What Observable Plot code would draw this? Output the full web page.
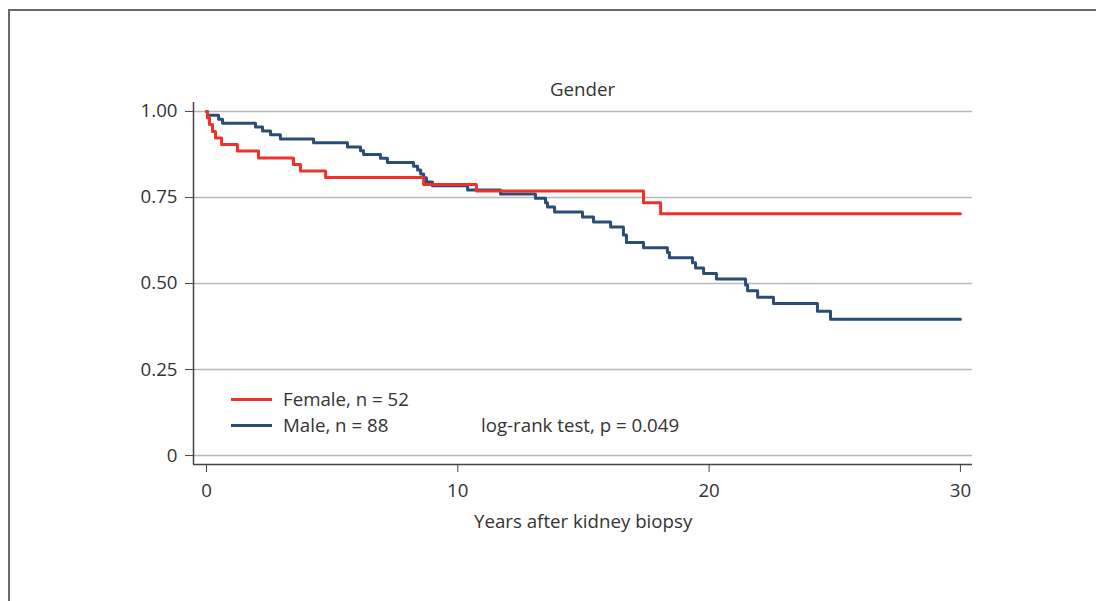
<!DOCTYPE html>
<html>
<head>
<meta charset="utf-8">
<script src="https://cdn.jsdelivr.net/npm/d3@7"></script>
<script src="https://cdn.jsdelivr.net/npm/@observablehq/plot@0.6"></script>
<style>
  html, body { margin: 0; padding: 0; background: #fff; }
  #wrap { position: relative; width: 1096px; height: 601px; overflow: hidden; font-family: "Open Sans", "Noto Sans", sans-serif; color: #333; }
  #border { position: absolute; left: 8px; top: 9px; width: 1200px; height: 700px; border-top: 2px solid #6a6a6a; border-left: 2px solid #6a6a6a; }
  .txt { position: absolute; font-size: 18.7px; white-space: nowrap; line-height: 1; }
  .sw { position: absolute; height: 3px; width: 41px; }
</style>
</head>
<body>
<div id="wrap">
  <div id="border"></div>
  <div id="chart"></div>
  <div class="txt" id="title" style="left:193px; width:779px; text-align:center; top:80px;"></div>
  <div class="sw" id="swF" style="left:231px; top:398px;"></div>
  <div class="txt" id="labF" style="left:283px; top:390px;"></div>
  <div class="sw" id="swM" style="left:231px; top:424px;"></div>
  <div class="txt" id="labM" style="left:283px; top:416px;"></div>
  <div class="txt" id="note" style="left:481px; top:416px;"></div>
  <div class="txt" id="xlab" style="left:474px; top:512px;"></div>
</div>
<script>
// ---- data ----
const titleText = "Gender";
const xLabel = "Years after kidney biopsy";
const noteText = "log-rank test, p = 0.049";
const seriesNames = ["Female, n = 52", "Male, n = 88"];
const seriesColors = ["#ee3229", "#2a4c77"];

const femaleTime = [0, 0.04, 0.12, 0.24, 0.36, 0.6, 1.23, 2.07, 3.46, 3.74, 4.74, 8.64, 10.74, 17.39, 18.07, 30];
const femaleSurv = [1.0, 0.981, 0.962, 0.942, 0.923, 0.904, 0.885, 0.865, 0.846, 0.827, 0.808, 0.788, 0.769, 0.735, 0.703, 0.703];

const maleTime = [0, 0.04, 0.48, 0.64, 1.95, 2.23, 2.55, 2.94, 4.26, 5.61, 6.13, 6.25, 6.92, 7.20, 8.24, 8.40, 8.52, 8.64, 8.75, 8.99, 10.39, 11.70, 13.09, 13.49, 13.57, 13.85, 14.96, 15.40, 16.08, 16.59, 16.71, 17.39, 18.34, 18.42, 19.34, 19.46, 19.78, 20.29, 21.45, 21.53, 21.93, 22.56, 24.31, 24.83, 30];
const maleSurv = [1.0, 0.989, 0.977, 0.966, 0.955, 0.943, 0.932, 0.920, 0.909, 0.897, 0.886, 0.875, 0.864, 0.852, 0.841, 0.830, 0.818, 0.807, 0.795, 0.784, 0.772, 0.760, 0.748, 0.735, 0.722, 0.708, 0.693, 0.679, 0.664, 0.641, 0.619, 0.604, 0.590, 0.575, 0.560, 0.545, 0.529, 0.513, 0.496, 0.479, 0.460, 0.442, 0.419, 0.396, 0.396];

const xTicks = [0, 10, 20, 30];
const yTicks = [0, 0.25, 0.5, 0.75, 1];
const yTickLabels = ["0", "0.25", "0.50", "0.75", "1.00"];

// ---- build ----
const female = femaleTime.map((t, i) => ({t, s: femaleSurv[i]}));
const male = maleTime.map((t, i) => ({t, s: maleSurv[i]}));
const xDomain = [-0.517, 30.48];
const yDomain = [-0.026, 1.026];
const fmtY = d => yTickLabels[yTicks.indexOf(d)];

const chart = Plot.plot({
  width: 1096,
  height: 601,
  marginLeft: 193,
  marginRight: 124,
  marginTop: 102,
  marginBottom: 137,
  style: {fontFamily: '"Open Sans", "Noto Sans", sans-serif', fontSize: "18.7px", color: "#333", background: "transparent"},
  x: {domain: xDomain, ticks: xTicks, label: null},
  y: {domain: yDomain, ticks: yTicks, label: null, tickFormat: fmtY},
  marks: [
    Plot.gridY(yTicks, {stroke: "#b8b8b8", strokeOpacity: 1, strokeWidth: 1.5}),
    Plot.axisX({ticks: xTicks, tickSize: 8, tickPadding: 11, stroke: "#444", fill: "#333", fontSize: 18.7, label: null}),
    Plot.axisY({ticks: yTicks, tickSize: 8, tickPadding: 8, stroke: "#444", fill: "#333", fontSize: 18.7, label: null, tickFormat: fmtY}),
    Plot.ruleX([xDomain[0]], {stroke: "#444", strokeWidth: 1.5}),
    Plot.ruleY([yDomain[0]], {stroke: "#444", strokeWidth: 1.5}),
    Plot.line(male, {x: "t", y: "s", curve: "step-after", stroke: seriesColors[1], strokeWidth: 3}),
    Plot.line(female, {x: "t", y: "s", curve: "step-after", stroke: seriesColors[0], strokeWidth: 3})
  ]
});
document.getElementById("chart").appendChild(chart);
document.getElementById("title").textContent = titleText;
document.getElementById("xlab").textContent = xLabel;
document.getElementById("note").textContent = noteText;
document.getElementById("labF").textContent = seriesNames[0];
document.getElementById("labM").textContent = seriesNames[1];
document.getElementById("swF").style.background = seriesColors[0];
document.getElementById("swM").style.background = seriesColors[1];
</script>
</body>
</html>
